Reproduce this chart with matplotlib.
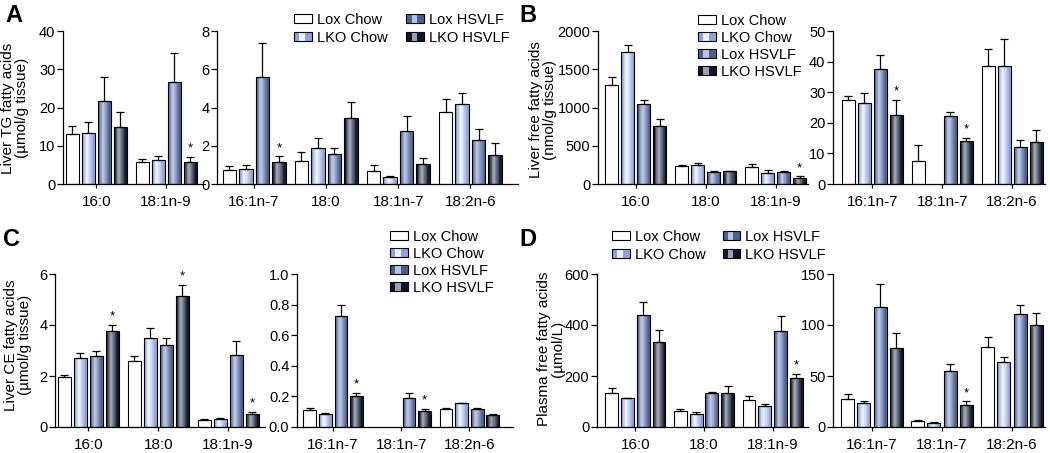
import numpy as np
import matplotlib
matplotlib.use("Agg")
import matplotlib.pyplot as plt
from matplotlib.patches import Rectangle
from matplotlib.legend_handler import HandlerBase
from matplotlib.colors import to_rgb

plt.rcParams['font.family'] = ['Liberation Sans', 'DejaVu Sans']

groups = ["Lox Chow", "LKO Chow", "Lox HSVLF", "LKO HSVLF"]
nan = np.nan

# ---------------- Panel A ----------------
a1_cats = ["16:0", "18:1n-9"]
a1_mean = {"Lox Chow": [13.0, 5.7], "LKO Chow": [13.3, 6.2],
           "Lox HSVLF": [21.8, 26.7], "LKO HSVLF": [15.0, 5.7]}
a1_sem = {"Lox Chow": [2.2, 0.85], "LKO Chow": [2.8, 1.0],
          "Lox HSVLF": [6.3, 7.5], "LKO HSVLF": [3.8, 1.3]}
a1_star = [("LKO HSVLF", 1)]

a2_cats = ["16:1n-7", "18:0", "18:1n-7", "18:2n-6"]
a2_mean = {"Lox Chow": [0.75, 1.18, 0.66, 3.77], "LKO Chow": [0.80, 1.88, 0.37, 4.16],
           "Lox HSVLF": [5.6, 1.58, 2.75, 2.31], "LKO HSVLF": [1.13, 3.44, 1.06, 1.50]}
a2_sem = {"Lox Chow": [0.17, 0.49, 0.33, 0.68], "LKO Chow": [0.20, 0.54, 0.05, 0.59],
          "Lox HSVLF": [1.75, 0.30, 0.78, 0.54], "LKO HSVLF": [0.31, 0.87, 0.28, 0.66]}
a2_star = [("LKO HSVLF", 0)]

# ---------------- Panel B ----------------
b1_cats = ["16:0", "18:0", "18:1n-9"]
b1_mean = {"Lox Chow": [1296, 230, 225], "LKO Chow": [1730, 243, 143],
           "Lox HSVLF": [1048, 152, 152], "LKO HSVLF": [752, 165, 78]}
b1_sem = {"Lox Chow": [108, 13, 30], "LKO Chow": [87, 31, 35],
          "Lox HSVLF": [52, 13, 13], "LKO HSVLF": [96, 9, 22]}
b1_star = [("LKO HSVLF", 2)]

b2_cats = ["16:1n-7", "18:1n-7", "18:2n-6"]
b2_mean = {"Lox Chow": [27.3, 7.4, 38.5], "LKO Chow": [26.6, nan, 38.5],
           "Lox HSVLF": [37.5, 22.3, 12.1], "LKO HSVLF": [22.4, 14.1, 13.8]}
b2_sem = {"Lox Chow": [1.6, 5.2, 5.7], "LKO Chow": [3.3, nan, 9.0],
          "Lox HSVLF": [4.6, 1.3, 2.4], "LKO HSVLF": [5.1, 0.9, 3.7]}
b2_star = [("LKO HSVLF", 0), ("LKO HSVLF", 1)]

# ---------------- Panel C ----------------
c1_cats = ["16:0", "18:0", "18:1n-9"]
c1_mean = {"Lox Chow": [1.97, 2.58, 0.29], "LKO Chow": [2.69, 3.50, 0.33],
           "Lox HSVLF": [2.79, 3.21, 2.84], "LKO HSVLF": [3.76, 5.15, 0.52]}
c1_sem = {"Lox Chow": [0.06, 0.20, 0.02], "LKO Chow": [0.23, 0.39, 0.02],
          "Lox HSVLF": [0.19, 0.29, 0.52], "LKO HSVLF": [0.24, 0.42, 0.07]}
c1_star = [("LKO HSVLF", 0), ("LKO HSVLF", 1), ("LKO HSVLF", 2)]

c2_cats = ["16:1n-7", "18:1n-7", "18:2n-6"]
c2_mean = {"Lox Chow": [0.113, nan, 0.120], "LKO Chow": [0.083, nan, 0.155],
           "Lox HSVLF": [0.725, 0.192, 0.116], "LKO HSVLF": [0.205, 0.103, 0.076]}
c2_sem = {"Lox Chow": [0.014, nan, 0.004], "LKO Chow": [0.011, nan, 0.004],
          "Lox HSVLF": [0.075, 0.031, 0.011], "LKO HSVLF": [0.020, 0.017, 0.011]}
c2_star = [("LKO HSVLF", 0), ("LKO HSVLF", 1)]

# ---------------- Panel D ----------------
d1_cats = ["16:0", "18:0", "18:1n-9"]
d1_mean = {"Lox Chow": [135, 62, 105], "LKO Chow": [113, 52, 83],
           "Lox HSVLF": [439, 135, 376], "LKO HSVLF": [335, 135, 193]}
d1_sem = {"Lox Chow": [18, 10, 15], "LKO Chow": [2, 8, 6],
          "Lox HSVLF": [50, 3, 59], "LKO HSVLF": [44, 27, 14]}
d1_star = [("LKO HSVLF", 2)]

d2_cats = ["16:1n-7", "18:1n-7", "18:2n-6"]
d2_mean = {"Lox Chow": [27.2, 5.9, 78.9], "LKO Chow": [23.3, 4.3, 63.9],
           "Lox HSVLF": [117.6, 54.7, 111.0], "LKO HSVLF": [77.3, 21.6, 100.2]}
d2_sem = {"Lox Chow": [5.2, 0.7, 9.2], "LKO Chow": [2.2, 0.3, 5.2],
          "Lox HSVLF": [22.9, 7.2, 8.2], "LKO HSVLF": [14.7, 3.6, 11.8]}
d2_star = [("LKO HSVLF", 1)]

# ---------------- styles ----------------
base_col = {"Lox Chow": "#ffffff", "LKO Chow": "#8fa2da",
            "Lox HSVLF": "#4b5f90", "LKO HSVLF": "#0f172b"}
light_col = {"Lox Chow": "#ffffff", "LKO Chow": "#eaf0fc",
             "Lox HSVLF": "#b8c3de", "LKO HSVLF": "#9aa0ae"}

W, H = 1050, 453
fig = plt.figure(figsize=(W / 100, H / 100), dpi=100)

BW = 0.186   # bar width (group units)
OFF = 0.229  # spacing of bars inside a group


def mix(c1, c2, t):
    a, b = np.array(to_rgb(c1)), np.array(to_rgb(c2))
    return tuple(a + (b - a) * t)


def draw_bar(ax, x, h, g, w=BW):
    ax.bar(x, h, w, color=base_col[g], edgecolor='none', zorder=2)
    if g != "Lox Chow":
        n = 6
        for k in range(1, n + 1):
            frac = 1 - k / (n + 1.2)
            ax.bar(x - 0.1 * w * (k / n), h, w * frac * 0.9,
                   color=mix(base_col[g], light_col[g], k / n),
                   edgecolor='none', zorder=2 + k * 0.01)
    ax.bar(x, h, w, facecolor='none', edgecolor='black', linewidth=0.8, zorder=3)


def make_axes(left_px, right_px, top_px, bottom_px):
    return fig.add_axes([left_px / W, 1 - bottom_px / H,
                         (right_px - left_px) / W, (bottom_px - top_px) / H])


def panel(ax, cats, mean, sem, stars, ylim, ystep, xlim, fmt=None):
    n = len(cats)
    xs = np.arange(n)
    for i, g in enumerate(groups):
        for j in range(n):
            m = mean[g][j]
            if np.isnan(m):
                continue
            x = xs[j] + (i - 1.5) * OFF
            draw_bar(ax, x, m, g)
            s = sem[g][j]
            if not np.isnan(s):
                ax.errorbar(x, m, yerr=[[0], [s]], fmt='none', ecolor='black',
                            elinewidth=0.9, capsize=3.2, capthick=0.9, zorder=4)
    for g, j in stars:
        i = groups.index(g)
        x = xs[j] + (i - 1.5) * OFF
        top = mean[g][j] + sem[g][j]
        ax.text(x, top + (ylim[1]) * 0.015, "*", ha='center', va='bottom',
                fontsize=9.5, zorder=5)
    ax.set_xlim(*xlim)
    ax.set_ylim(*ylim)
    ax.set_yticks(np.arange(ylim[0], ylim[1] + ystep / 2, ystep))
    if fmt:
        ax.set_yticklabels([fmt % v for v in ax.get_yticks()])
    ax.set_xticks(xs)
    ax.set_xticklabels(cats)
    for sp in ['top', 'right']:
        ax.spines[sp].set_visible(False)
    for sp in ['left', 'bottom']:
        ax.spines[sp].set_linewidth(0.9)
    ax.tick_params(axis='y', direction='out', length=4, width=0.9, labelsize=10.5, pad=1.5)
    ax.tick_params(axis='x', direction='out', length=3, width=0.9, labelsize=11, pad=5)


# Panel A
axA1 = make_axes(63, 205, 31, 184)
panel(axA1, a1_cats, a1_mean, a1_sem, a1_star, (0, 40), 10,
      ((63 - 96.5) / 70, 1 + (205 - 166) / 70))
axA2 = make_axes(217, 518, 31, 184)
panel(axA2, a2_cats, a2_mean, a2_sem, a2_star, (0, 8), 2,
      ((217 - 254) / 72, 3 + (518 - 470.5) / 72))

# Panel B
axB1 = make_axes(598, 808, 31, 184)
panel(axB1, b1_cats, b1_mean, b1_sem, b1_star, (0, 2000), 500,
      ((598 - 636) / 70, 2 + (808 - 775.5) / 70))
axB2 = make_axes(833, 1045, 31, 184)
panel(axB2, b2_cats, b2_mean, b2_sem, b2_star, (0, 50), 10,
      ((833 - 872.5) / 70, 2 + (1045 - 1012) / 70))

# Panel C
axC1 = make_axes(55, 265, 274, 427)
panel(axC1, c1_cats, c1_mean, c1_sem, c1_star, (0, 6), 2,
      ((55 - 88.5) / 70, 2 + (265 - 228) / 70))
axC2 = make_axes(297, 513, 274, 427)
panel(axC2, c2_cats, c2_mean, c2_sem, c2_star, (0, 1.0), 0.2,
      ((297 - 333) / 68, 2 + (513 - 469.5) / 68), fmt="%.1f")

# Panel D
axD1 = make_axes(597, 808, 274, 427)
panel(axD1, d1_cats, d1_mean, d1_sem, d1_star, (0, 600), 200,
      ((597 - 635.5) / 69, 2 + (808 - 772.5) / 69))
axD2 = make_axes(833, 1045, 274, 427)
panel(axD2, d2_cats, d2_mean, d2_sem, d2_star, (0, 150), 50,
      ((833 - 872) / 70, 2 + (1045 - 1012) / 70))

# y labels
ylabels = [("Liver TG fatty acids\n(µmol/g tissue)", 15, 108),
           ("Liver free fatty acids\n(nmol/g tissue)", 543, 110),
           ("Liver CE fatty acids\n(µmol/g tissue)", 18, 345),
           ("Plasma free fatty acids\n(µmol/L)", 551, 349)]
for txt, xp, yp in ylabels:
    fig.text(xp / W, 1 - yp / H, txt, rotation=90, ha='center', va='center',
             fontsize=11, linespacing=1.0)

# panel letters
for let, xp, yp in [("A", 5, 4), ("B", 519, 4), ("C", 3, 228), ("D", 519, 228)]:
    fig.text(xp / W, 1 - yp / H, let, fontsize=17, fontweight='bold',
             ha='left', va='top')


# legend handler with shaded stripe
class StripeHandler(HandlerBase):
    def __init__(self, g):
        super().__init__()
        self.g = g

    def create_artists(self, legend, orig_handle, xdescent, ydescent, width,
                       height, fontsize, trans):
        arts = []
        w = width
        h = height
        x0, y0 = -xdescent, -ydescent
        arts.append(Rectangle((x0, y0), w, h, facecolor=base_col[self.g],
                              edgecolor='none', transform=trans))
        if self.g != "Lox Chow":
            arts.append(Rectangle((x0 + w * 0.3, y0), w * 0.3, h,
                                  facecolor=light_col[self.g], edgecolor='none',
                                  transform=trans))
        arts.append(Rectangle((x0, y0), w, h, facecolor='none',
                              edgecolor='black', linewidth=0.8, transform=trans))
        return arts


handles = [Rectangle((0, 0), 1, 1) for _ in groups]
hmap = {h: StripeHandler(g) for h, g in zip(handles, groups)}


def add_legend(xp, yp, ncol, rowsp=0.25, colsp=1.2):
    fig.legend(handles, groups, handler_map=hmap, loc='upper left',
               bbox_to_anchor=(xp / W, 1 - yp / H), ncol=ncol, frameon=False,
               fontsize=10.5, handlelength=1.2, handleheight=0.55,
               handletextpad=0.35, labelspacing=rowsp, columnspacing=colsp,
               borderaxespad=0, borderpad=0)


add_legend(294, 13, 2, rowsp=0.25, colsp=1.3)
add_legend(698, 14, 1, rowsp=0.2)
add_legend(390, 230, 1, rowsp=0.2)
add_legend(612, 230, 2, rowsp=0.25, colsp=1.2)

fig.savefig("out.png", dpi=100)
